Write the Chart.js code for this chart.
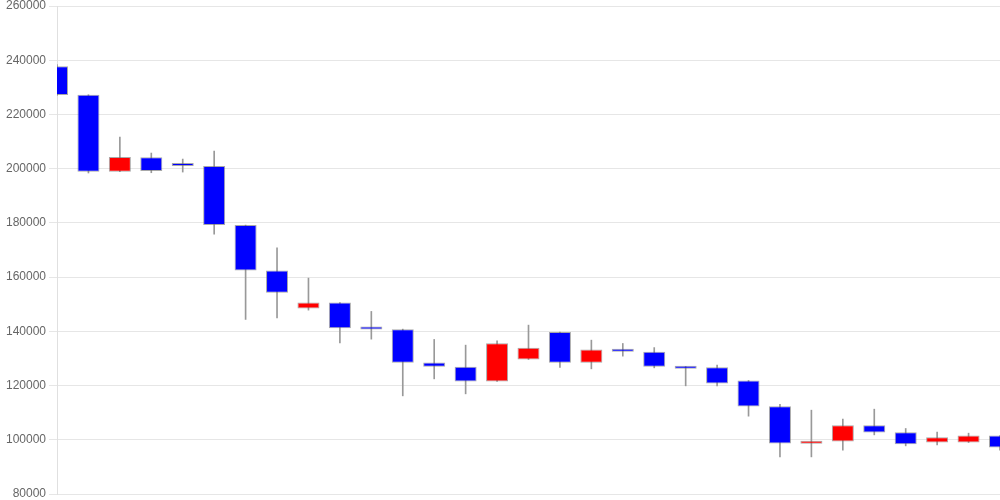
<!DOCTYPE html>
<html>
<head>
<meta charset="utf-8">
<script src="https://cdn.jsdelivr.net/npm/chart.js@4/dist/chart.umd.min.js"></script>
<style>
  html, body { margin: 0; padding: 0; background: #fff; }
  #wrap { width: 1000px; height: 500px; }
</style>
</head>
<body>
<div id="wrap"><canvas id="candle_chart"></canvas></div>
<script>
// candle data
var labels = [];
for (var n = 1; n <= 31; n++) labels.push(String(n));

var opens  = [237750, 227270, 198860, 204170, 201300, 200960, 179190, 162470, 148450, 150650,
              141180, 140810, 128520, 126900, 121510, 129620, 139710, 128390, 133060, 132450,
              127040, 126790, 121880, 112390, 98520, 99370, 105390, 102810, 99000, 99000, 101580];
var closes = [227160, 198860, 204300, 199100, 201000, 179190, 162470, 154200, 150650, 141180,
              140690, 128390, 126900, 121510, 135650, 133920, 128390, 133300, 132450, 126900,
              126160, 120780, 112290, 98640, 99370, 105390, 102690, 98380, 100970, 101580, 97160];
var highs  = [238400, 227270, 211660, 205760, 203540, 206500, 179190, 170830, 159630, 150650,
              147340, 140810, 137010, 134910, 136490, 142290, 139710, 136750, 135520, 134000,
              127040, 127530, 121880, 113030, 110920, 107600, 111290, 104160, 102810, 102440, 101580];
var lows   = [227000, 198400, 198860, 198500, 198750, 175870, 144390, 144980, 147820, 135760,
              137120, 116200, 122470, 116940, 121510, 129620, 126680, 126160, 130850, 126530,
              119890, 119890, 108710, 93690, 93690, 96160, 101810, 97750, 98120, 99000, 96160];

var bodies = [], wicks = [], bodyColors = [];
for (var i = 0; i < labels.length; i++) {
  bodies.push([opens[i], closes[i]]);
  wicks.push([lows[i], highs[i]]);
  bodyColors.push(closes[i] > opens[i] ? '#ff0000' : '#0000ff');
}

var ctx = document.getElementById('candle_chart');
var candleChart = new Chart(ctx, {
  type: 'bar',
  data: {
    labels: labels,
    datasets: [{
      label: 'body',
      data: bodies,
      backgroundColor: bodyColors,
      borderColor: 'rgba(110,110,110,0.6)',
      borderWidth: 1,
      borderSkipped: false,
      minBarLength: 3,
      barPercentage: 0.7,
      categoryPercentage: 1,
      grouped: false,
      order: 0
    }, {
      label: 'wick',
      data: wicks,
      backgroundColor: '#999999',
      borderWidth: 0,
      barThickness: 1,
      grouped: false,
      order: 1
    }]
  },
  options: {
    responsive: true,
    maintainAspectRatio: false,
    animation: false,
    layout: { padding: 0 },
    plugins: {
      legend: { display: false },
      tooltip: { enabled: false }
    },
    scales: {
      x: {
        display: false,
        offset: false
      },
      y: {
        min: 80000,
        max: 260000,
        ticks: {
          stepSize: 20000,
          color: '#666',
          font: { family: 'Liberation Sans', size: 12 },
          callback: function(v) { return String(v); }
        },
        grid: { color: '#e6e6e6' },
        border: { color: '#e0e0e0' },
        afterFit: function(scale) {
          // match the reference plot box
          scale.width = 57;
          scale.paddingTop = 6;
          scale.paddingBottom = 6;
        }
      }
    }
  }
});
</script>
</body>
</html>
